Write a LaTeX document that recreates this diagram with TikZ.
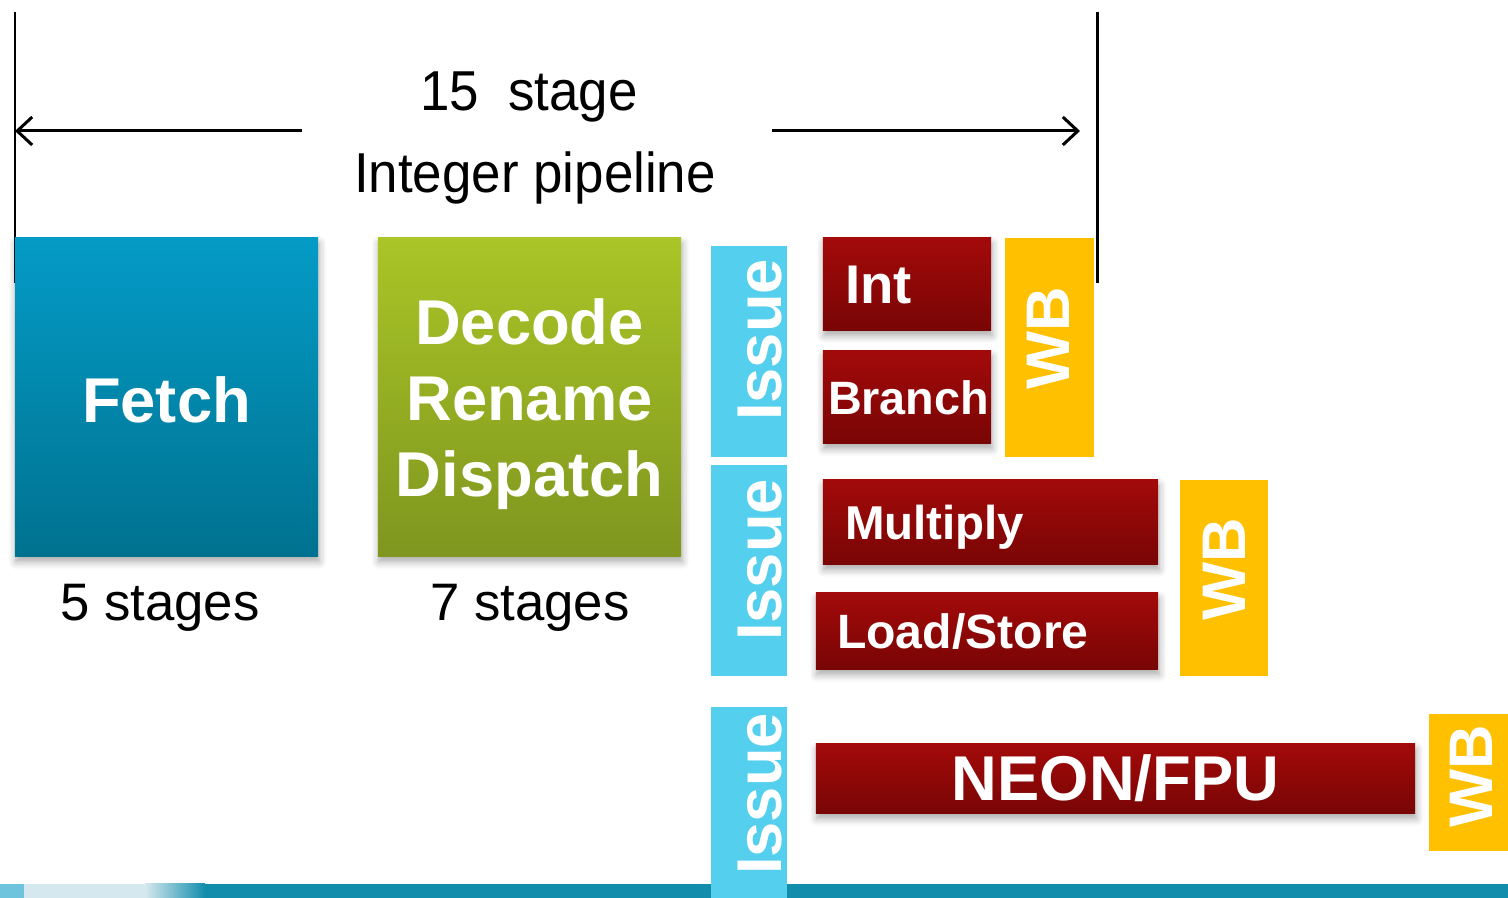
\documentclass[tikz,border=0pt]{standalone}
\usepackage{fontspec}
\setmainfont{Liberation Sans}
\usepackage{tikz}
\usetikzlibrary{arrows.meta, shadows.blur, positioning}

\definecolor{fetchtop}{HTML}{049BC6}
\definecolor{fetchbot}{HTML}{007290}
\definecolor{decodetop}{HTML}{A9C526}
\definecolor{decodebot}{HTML}{7F961F}
\definecolor{unittop}{HTML}{A30A0A}
\definecolor{unitbot}{HTML}{790505}
\definecolor{issuecol}{HTML}{55CFEE}
\definecolor{wbcol}{HTML}{FFC000}
\definecolor{bandcol}{HTML}{138DAC}
\definecolor{bandlight}{HTML}{D5E8EF}
\definecolor{bandedge}{HTML}{6EC3DD}

\newcommand{\fsz}[1]{\fontsize{#1}{1.2\dimexpr#1pt\relax}\selectfont}

\begin{document}
\begin{tikzpicture}[x=0.01cm, y=-0.01cm]
    \tikzstyle{every node}=[inner sep=0pt, outer sep=0pt]
    \tikzstyle{shade box}=[blur shadow={shadow xshift=0.3pt, shadow yshift=-1.6pt, shadow blur steps=6, shadow opacity=35}]
    \tikzstyle{stagebox}=[rectangle, shade box, minimum width=3.03cm, minimum height=3.18cm]
    \tikzstyle{unitbox}=[rectangle, shade box, top color=unittop, bottom color=unitbot]
    \tikzstyle{boxlabel}=[text=white, font=\bfseries\fsz{18}]
    \tikzstyle{unitlabel}=[text=white, anchor=base west]
    \tikzstyle{issuebox}=[rectangle, fill=issuecol, minimum width=0.76cm]
    \tikzstyle{wbbox}=[rectangle, fill=wbcol]
    \tikzstyle{sidelabel}=[rotate=90, text=white, font=\bfseries\fsz{18}]
    \tikzstyle{plain text}=[font=\fsz{16}]
    \tikzstyle{span line}=[line width=0.85pt]
    \tikzstyle{span arrow}=[line width=0.85pt, -{Straight Barb[length=1.5mm, width=2.8mm]}]

    \useasboundingbox (0,0) rectangle (1508,898);

    % bottom band
    \fill[bandcol] (0,884) rectangle (1508,898);
    \fill[bandlight] (0,884) rectangle (145,898);
    \fill[bandedge] (0,884) rectangle (24,898);
    \shade[left color=bandlight, right color=bandcol] (145,884) rectangle (205,898);

    % span of the integer pipeline
    \coordinate (ltop) at (15,12);
    \coordinate (lbot) at (15,283);
    \coordinate (rtop) at (1097,12);
    \coordinate (rbot) at (1097,283);
    \draw[span line] (ltop) -- (lbot);
    \draw[span line] (rtop) -- (rbot);
    \node[plain text] (stagecount) at (529,97) {\scalebox{0.94}[1]{15\ \ stage}};
    \node[plain text] (pipename) at (535,178) {\scalebox{0.94}[1]{Integer pipeline}};
    \coordinate (aleft) at (302,131);
    \coordinate (aright) at (772,131);
    \draw[span arrow] (aleft) -- (ltop |- aleft);
    \draw[span arrow] (aright) -- (1080,131);

    % front end
    \node[stagebox, top color=fetchtop, bottom color=fetchbot] (fetch) at (166.5,397) {};
    \node[boxlabel] at (166.5,400) {Fetch};
    \node[stagebox, top color=decodetop, bottom color=decodebot] (decode) at (529.5,397) {};
    \node[boxlabel, align=center] at (529.5,404) {Decode\\Rename\\Dispatch};
    \node[plain text, font=\fsz{15}] (fetchn) at (160,608) {5 stages};
    \node[plain text, font=\fsz{15}] (decoden) at (530,608) {7 stages};

    % issue queues
    \node[issuebox, minimum height=2.11cm] (issuea) at (749,351.5) {};
    \node[issuebox, minimum height=2.11cm] (issueb) at (749,570.5) {};
    \node[issuebox, minimum height=1.91cm] (issuec) at (749,802.5) {};
    \node[sidelabel] at (760,340) {Issue};
    \node[sidelabel] at (760,560) {Issue};
    \node[sidelabel] at (760,794) {Issue};

    % execution units
    \node[unitbox, minimum width=1.68cm, minimum height=0.92cm] (int) at (907,284) {};
    \node[unitbox, minimum width=1.68cm, minimum height=0.92cm] (branch) at (907,397) {};
    \node[unitbox, minimum width=3.35cm, minimum height=0.84cm] (mult) at (990.5,522) {};
    \node[unitbox, minimum width=3.42cm, minimum height=0.76cm] (ldst) at (987,631) {};
    \node[unitbox, minimum width=5.99cm, minimum height=0.69cm] (neon) at (1115.5,778.5) {};
    \node[unitlabel, font=\bfseries\fsz{15.5}] at (845,304) {Int};
    \node[unitlabel, font=\bfseries\fsz{13.3}] at (828,415) {Branch};
    \node[unitlabel, font=\bfseries\fsz{13.5}] at (845,540) {Multiply};
    \node[unitlabel, font=\bfseries\fsz{13.7}] at (837,649) {Load/Store};
    \node[boxlabel] at (neon) {NEON/FPU};

    % write back
    \node[wbbox, minimum width=0.89cm, minimum height=2.19cm] (wba) at (1049.5,347.5) {};
    \node[wbbox, minimum width=0.88cm, minimum height=1.96cm] (wbb) at (1224,578) {};
    \node[wbbox, minimum width=0.79cm, minimum height=1.37cm] (wbc) at (1468.5,782.5) {};
    \node[sidelabel, font=\bfseries\fsz{17.5}] at (1048,338) {WB};
    \node[sidelabel, font=\bfseries\fsz{17.5}] at (1224,569) {WB};
    \node[sidelabel, font=\bfseries\fsz{17.5}] at (1471,776) {WB};
\end{tikzpicture}
\end{document}
